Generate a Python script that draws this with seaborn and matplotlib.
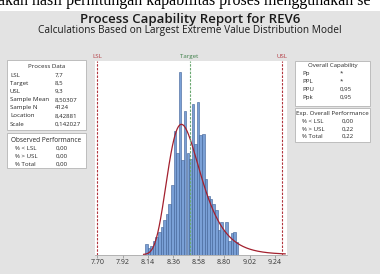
import numpy as np
import pandas as pd
import matplotlib
matplotlib.use('Agg')
import matplotlib.pyplot as plt
from matplotlib.patches import Rectangle
import seaborn as sns

# data
lsl, target, usl = 7.7, 8.5, 9.3
loc, scale = 8.42881, 0.142027
bin_start, bin_width = 8.113, 0.0225
bar_heights = [0.20, 0.12, 0.16, 0.26, 0.34, 0.44, 0.54, 0.68, 0.80, 1.00,
               1.39, 2.45, 2.01, 3.64, 1.89, 2.85, 2.01, 1.91, 3.00, 2.19,
               3.04, 2.37, 2.39, 1.51, 1.17, 1.11, 1.01, 0.88, 0.48, 0.64,
               0.46, 0.64, 0.26, 0.42, 0.44, 0.24]
tick_vals = [7.70, 7.92, 8.14, 8.36, 8.58, 8.80, 9.02, 9.24]

process_labels = ['LSL', 'Target', 'USL', 'Sample Mean', 'Sample N', 'Location', 'Scale']
process_values = ['7,7', '8,5', '9,3', '8,50307', '4124', '8,42881', '0,142027']
obs_labels = ['% < LSL', '% > USL', '% Total']
obs_values = ['0,00', '0,00', '0,00']
cap_labels = ['Pp', 'PPL', 'PPU', 'Ppk']
cap_values = ['*', '*', '0,95', '0,95']
exp_labels = ['% < LSL', '% > USL', '% Total']
exp_values = ['0,00', '0,22', '0,22']

sns.set_theme(style='white')
plt.rcParams['font.family'] = ['Open Sans', 'DejaVu Sans']

W, H = 380, 274
fig = plt.figure(figsize=(W / 100, H / 100), dpi=100, facecolor='white')

def fx(px):
    return px / W

def fy(py):
    return 1 - py / H

# gray report panel below the cropped document line
fig.patches.append(Rectangle((0, 0), 1, fy(10.5), transform=fig.transFigure,
                             facecolor='#e3e3e3', edgecolor='none', zorder=-10))
fig.text(-0.004, fy(5.0), 'akan hasil perhitungan kapabilitas proses menggunakan se',
         family='Liberation Serif', fontsize=11.5, va='baseline', ha='left', color='black')

fig.text(0.5, fy(20), 'Process Capability Report for REV6', ha='center', va='center',
         fontsize=9.5, color='#1a1a1a', fontweight='semibold')
fig.text(0.5, fy(31), 'Calculations Based on Largest Extreme Value Distribution Model',
         ha='center', va='center', fontsize=7.3, color='#1a1a1a', fontweight='medium')

ax = fig.add_axes([fx(95), 1 - 254.5 / H, fx(287 - 95), (254.5 - 61) / H])
ax.set_zorder(2)
ax.set_facecolor('white')

edges = [float(e) for e in bin_start + bin_width * np.arange(len(bar_heights) + 1)]
centers = [(a + b) / 2 for a, b in zip(edges[:-1], edges[1:])]
hist_df = pd.DataFrame({'x': centers, 'w': bar_heights})
sns.histplot(data=hist_df, x='x', weights='w', bins=edges, stat='count', ax=ax,
             color='#7aa0d6', edgecolor='#3d5f94', linewidth=0.4, alpha=1)

# fitted largest extreme value (Gumbel) curve
xs = np.linspace(8.10, 9.33, 300)
z = (xs - loc) / scale
pdf = np.exp(-(z + np.exp(-z))) / scale
sns.lineplot(x=xs, y=pdf, ax=ax, color='#a3202e', linewidth=0.9)

for v, c, lab in [(lsl, '#b2363e', 'LSL'), (usl, '#b2363e', 'USL'), (target, '#6aa870', 'Target')]:
    ax.axvline(v, color=c, linestyle=(0, (2.2, 1.2)), linewidth=0.8, zorder=5)
    ax.text(v, 1.01, lab, ha='center', va='bottom', fontsize=4.4,
            transform=ax.get_xaxis_transform(),
            color=c if lab != 'Target' else '#3d7f48', clip_on=False)

ax.set_xlim(7.68, 9.344)
ax.set_ylim(0, 3.85)
ax.set_xticks(tick_vals)
ax.set_xticklabels([f'{t:.2f}' for t in tick_vals], fontsize=5, color='#333333')
ax.set_yticks([])
ax.set_xlabel('')
ax.set_ylabel('')
ax.tick_params(axis='x', length=2, width=0.5, color='#888888', pad=1.5, bottom=True)
for s in ['top', 'left', 'right']:
    ax.spines[s].set_visible(False)
ax.spines['bottom'].set_color('#aaaaaa')
ax.spines['bottom'].set_linewidth(0.6)


def box(x0, y0, x1, y1):
    fig.patches.append(Rectangle((fx(x0), fy(y1)), fx(x1 - x0), (y1 - y0) / H,
                                 transform=fig.transFigure, facecolor='white',
                                 edgecolor='#b5b5b5', linewidth=0.6, zorder=1))

fs = 4.4
# Process Data
box(7, 60, 86, 130)
fig.text(fx(46.5), fy(67), 'Process Data', ha='center', va='center', fontsize=fs)
for i, (l, v) in enumerate(zip(process_labels, process_values)):
    y = 75.5 + i * 8.1
    fig.text(fx(10), fy(y), l, ha='left', va='center', fontsize=fs)
    fig.text(fx(55), fy(y), v, ha='left', va='center', fontsize=fs)

# Observed Performance
box(7, 133, 86, 168)
fig.text(fx(46.5), fy(140), 'Observed Performance', ha='center', va='center', fontsize=fs + 0.3)
for i, (l, v) in enumerate(zip(obs_labels, obs_values)):
    y = 148 + i * 8
    fig.text(fx(15), fy(y), l, ha='left', va='center', fontsize=fs)
    fig.text(fx(56), fy(y), v, ha='left', va='center', fontsize=fs)

# Overall Capability
box(295, 61, 370, 106)
fig.text(fx(332.5), fy(66), 'Overall Capability', ha='center', va='center', fontsize=fs)
for i, (l, v) in enumerate(zip(cap_labels, cap_values)):
    y = 73 + i * 8.2
    fig.text(fx(302), fy(y), l, ha='left', va='center', fontsize=fs)
    fig.text(fx(340), fy(y), v, ha='left', va='center', fontsize=fs)

# Exp. Overall Performance
box(295, 108, 370, 142)
fig.text(fx(332.5), fy(114), 'Exp. Overall Performance', ha='center', va='center', fontsize=fs)
for i, (l, v) in enumerate(zip(exp_labels, exp_values)):
    y = 121.5 + i * 7.6
    fig.text(fx(302), fy(y), l, ha='left', va='center', fontsize=fs)
    fig.text(fx(342), fy(y), v, ha='left', va='center', fontsize=fs)

fig.savefig('out.png', dpi=100, facecolor='white')
